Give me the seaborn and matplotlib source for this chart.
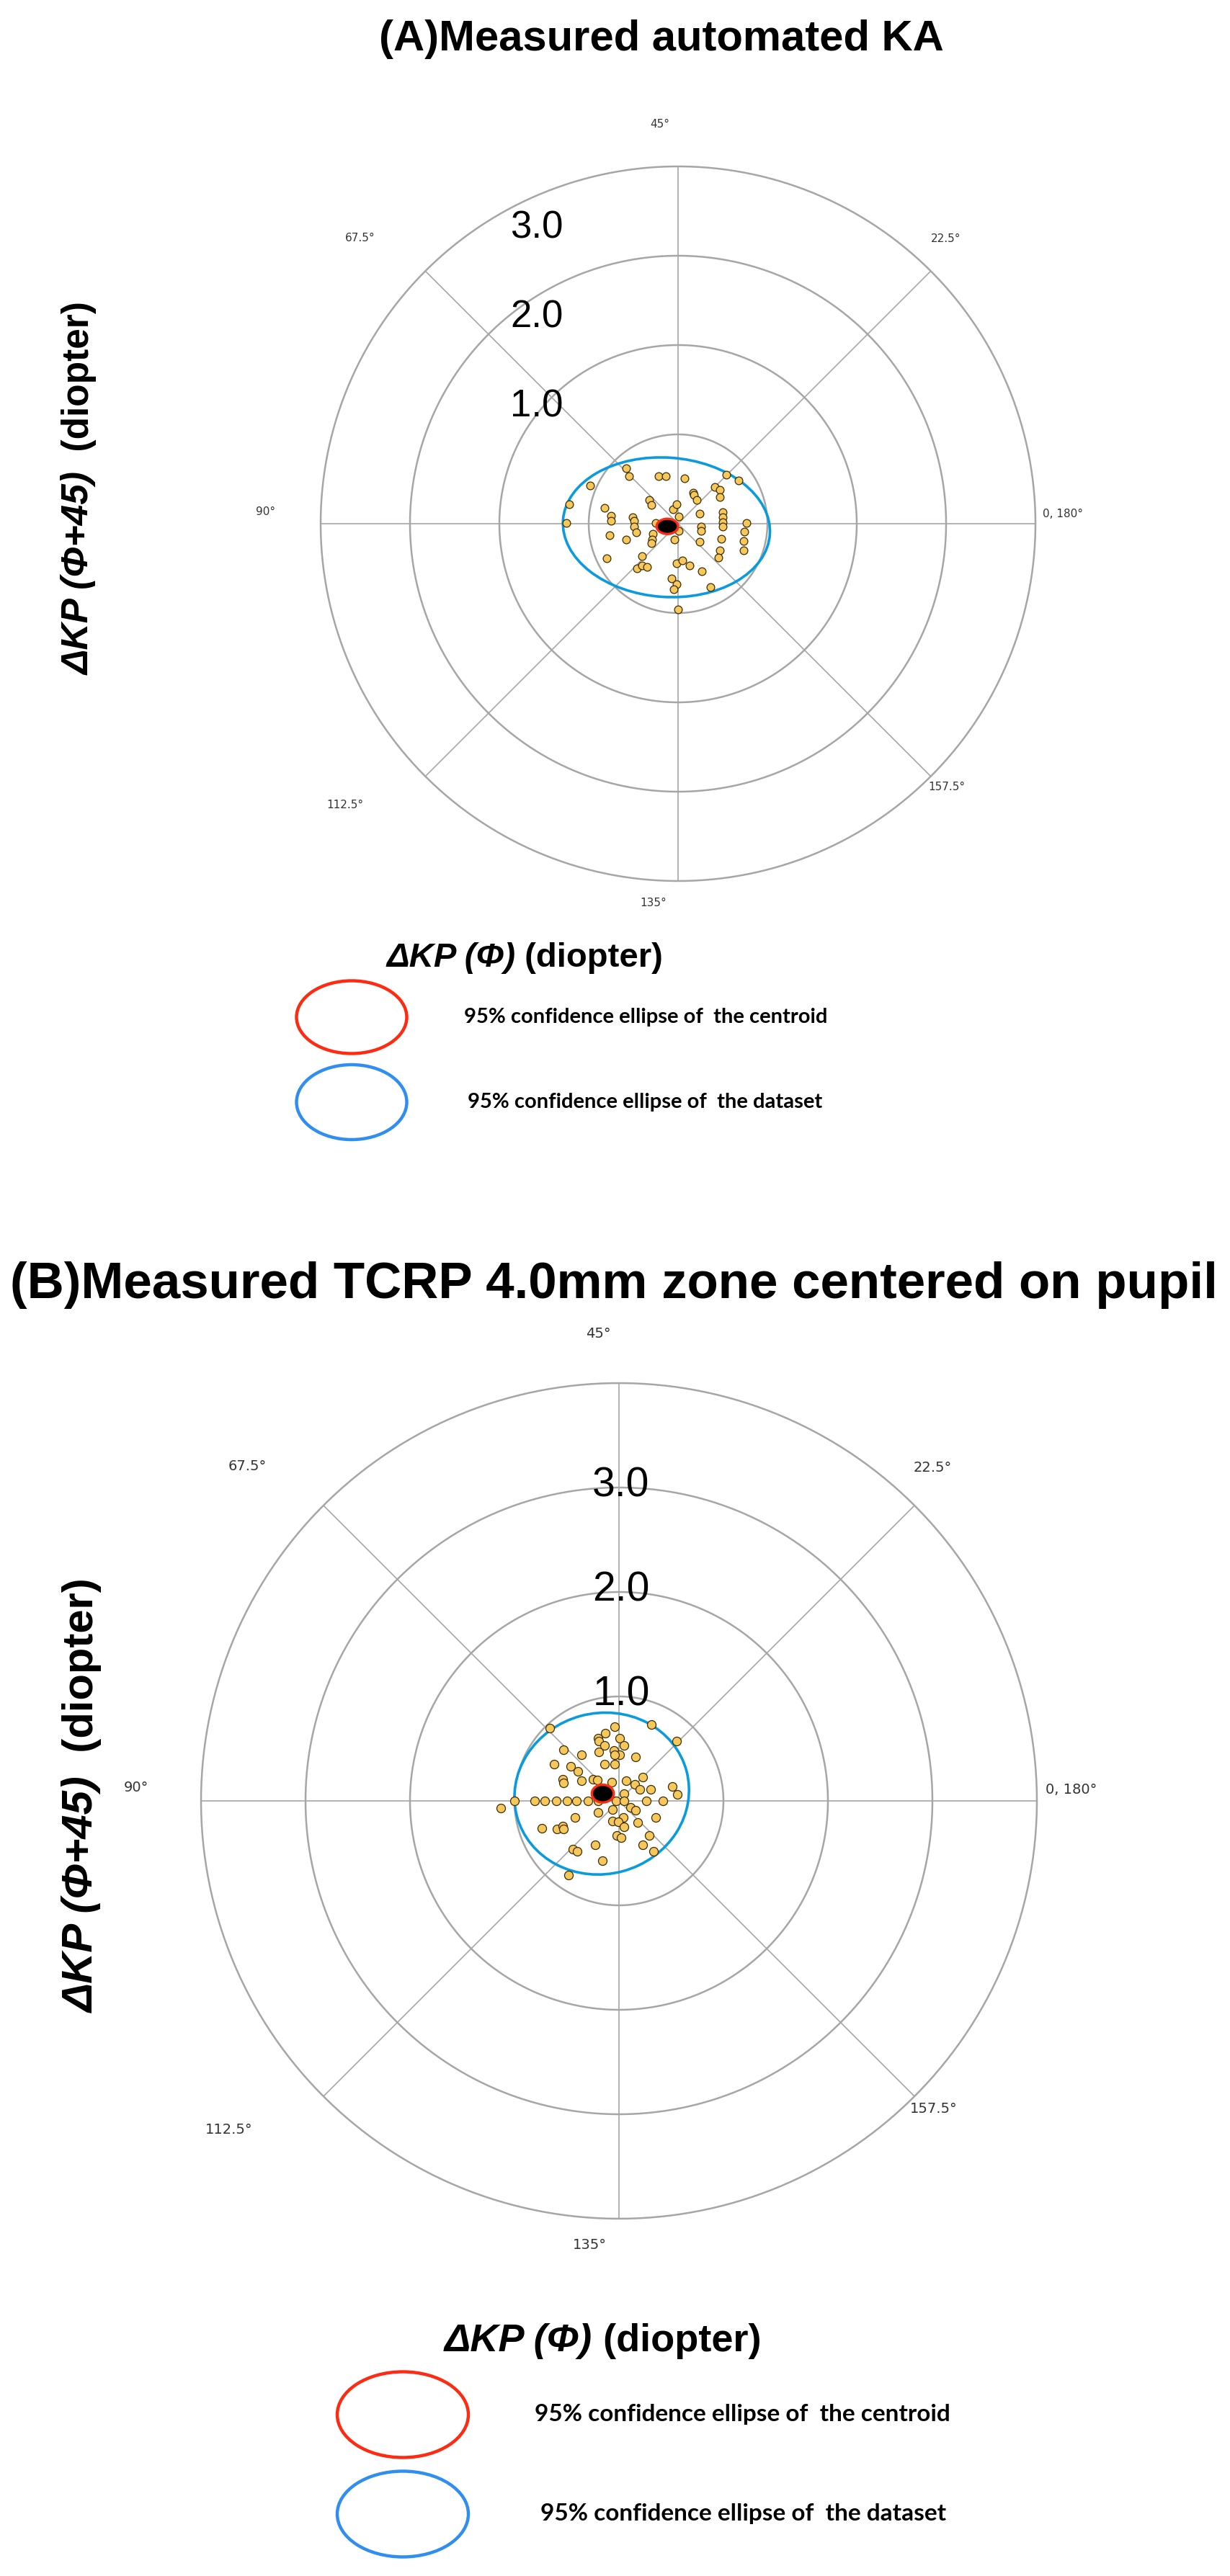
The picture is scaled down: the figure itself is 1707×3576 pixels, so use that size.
import numpy as np
import pandas as pd
import seaborn as sns
import matplotlib.pyplot as plt
from matplotlib.patches import Ellipse

sns.set_theme(style="white")
plt.rcParams['font.family'] = ['Liberation Sans', 'DejaVu Sans']
plt.rcParams['text.color'] = 'black'

# (A) measured automated KA, double-angle plot coordinates (diopter)
ka_x = [-0.58, -0.55, -0.22, -0.14, 0.07, -0.98, -1.22, -1.25, -0.82, -0.75, -0.75, -0.77, -0.80,
        -0.58, -0.51, -0.49, -0.49, -0.47, -0.32, -0.30, -0.25, -0.28, -0.29, -0.30, -0.40, -0.46,
        -0.40, -0.35, -0.06, -0.02, 0.01, 0.01, -0.04, -0.02, 0.05, 0.13, -0.07, -0.02, -0.05, 0.00,
        0.27, 0.36, 0.17, 0.18, 0.21, 0.24, 0.26, 0.26, 0.24, 0.41, 0.47, 0.47, 0.54, 0.68, 0.50,
        0.50, 0.50, 0.50, 0.48, 0.47, 0.45, 0.77, 0.74, 0.73, 0.73]
ka_y = [0.62, 0.53, 0.53, 0.53, 0.51, 0.43, 0.22, 0.01, 0.18, 0.09, 0.03, -0.13, -0.39,
        -0.18, 0.07, 0.03, -0.03, -0.10, 0.27, 0.21, 0.01, -0.11, -0.18, -0.22, -0.36, -0.50,
        -0.47, -0.48, 0.16, 0.22, 0.08, -0.08, -0.18, -0.44, -0.41, -0.47, -0.61, -0.68, -0.73, -0.96,
        -0.53, -0.71, 0.35, 0.32, 0.27, 0.11, -0.03, -0.08, -0.20, 0.41, 0.38, 0.30, 0.55, 0.48, 0.13,
        0.07, 0.02, -0.03, -0.17, -0.30, -0.38, 0.01, -0.09, -0.19, -0.30]
# centre x, centre y, width, height, angle
ka_centroid_ell = [-0.12, -0.03, 0.24, 0.17, 0]
ka_dataset_ell = [-0.13, -0.04, 2.32, 1.56, -4]

# (B) measured TCRP 4.0mm zone centered on pupil
tcrp_x = [-0.66, -0.04, -0.13, -0.20, -0.19, 0.01, 0.05, -0.14, -0.19, -0.05, 0.01, -0.04, -0.53,
          -0.36, 0.16, -0.62, -0.46, -0.39, -0.14, -0.04, -0.54, -0.53, -0.36, -0.25, -0.21, -0.07,
          0.07, 0.23, 0.15, 0.20, 0.30, 0.51, 0.56, 0.05, 0.31, 0.55, -1.13, -1.00, -0.81, -0.71,
          -0.60, -0.50, -0.41, -0.30, -0.20, -0.03, 0.05, 0.26, 0.42, -0.20, -0.06, 0.11, 0.16, 0.04,
          -0.06, -0.01, 0.05, 0.18, 0.35, -0.42, -0.74, -0.59, -0.54, -0.53, -0.02, 0.02, 0.29, 0.23,
          0.33, -0.23, -0.44, -0.40, -0.16, -0.48]
tcrp_y = [0.70, 0.71, 0.65, 0.60, 0.57, 0.60, 0.53, 0.53, 0.47, 0.48, 0.44, 0.44, 0.49,
          0.44, 0.42, 0.35, 0.33, 0.28, 0.35, 0.35, 0.21, 0.17, 0.19, 0.21, 0.20, 0.18,
          0.19, 0.23, 0.16, 0.11, 0.11, 0.14, 0.06, 0.07, 0.73, 0.57, -0.07, 0.00, 0.00, 0.00,
          0.00, 0.00, 0.00, 0.00, 0.00, 0.00, 0.00, 0.00, 0.00, -0.11, -0.08, -0.06, -0.09, -0.16,
          -0.19, -0.20, -0.25, -0.21, -0.16, -0.16, -0.26, -0.27, -0.24, -0.27, -0.33, -0.35, -0.33, -0.42,
          -0.48, -0.42, -0.46, -0.48, -0.57, -0.71]
tcrp_centroid_ell = [-0.155, 0.07, 0.21, 0.17, 0]
tcrp_dataset_ell = [-0.165, 0.07, 1.68, 1.54, 15]

ring_radii = [1, 2, 3, 4]
ring_labels = ['1.0', '2.0', '3.0']
spoke_angles = [0, 45, 90, 135]
angle_labels = ['0, 180°', '22.5°', '45°', '67.5°', '90°', '112.5°', '135°', '157.5°']
angle_label_xy = [(4.08, 0.11), (3.0, 3.19), (-0.2, 4.47), (-3.56, 3.2),
                  (-4.62, 0.13), (-3.73, -3.15), (-0.28, -4.25), (3.01, -2.95)]

W, H = 1708, 3576
fig = plt.figure(figsize=(W / 100, H / 100), dpi=100)

# overlay in pixel coordinates for titles, axis titles and legend
lay = fig.add_axes([0, 0, 1, 1])
lay.set_xlim(0, W)
lay.set_ylim(H, 0)
lay.axis('off')
lay.patch.set_alpha(0)


def add_panel(rect, xs, ys, cen_ell, data_ell, lim, ang_size, rlab_x, rlab_dy, rlab_size, dot_size):
    ax = fig.add_axes(rect)
    grid_c = '#a6a6a6'
    th = np.linspace(0, 2 * np.pi, 500)
    for r in ring_radii:
        ax.plot(r * np.cos(th), r * np.sin(th), color=grid_c, lw=1.8, zorder=1)
    R = ring_radii[-1]
    for a in spoke_angles:
        t = np.deg2rad(a)
        ax.plot([-R * np.cos(t), R * np.cos(t)], [-R * np.sin(t), R * np.sin(t)],
                color=grid_c, lw=1.2, zorder=1)

    df = pd.DataFrame({'x': xs, 'y': ys})
    ax.add_patch(Ellipse((data_ell[0], data_ell[1]), data_ell[2], data_ell[3], angle=data_ell[4],
                         fill=False, edgecolor='#0a9ade', lw=2.6, zorder=2))
    sns.scatterplot(data=df, x='x', y='y', ax=ax, color='#f6c75a', edgecolor='#3b2c05',
                    linewidth=0.9, s=dot_size, zorder=3, legend=False)
    ax.add_patch(Ellipse((cen_ell[0], cen_ell[1]), cen_ell[2], cen_ell[3], angle=cen_ell[4],
                         facecolor='black', edgecolor='#ff2a12', lw=2.4, zorder=4))

    for lab, r in zip(ring_labels, ring_radii):
        ax.text(rlab_x, r + rlab_dy, lab, fontsize=rlab_size, ha='center', va='center',
                color='black', zorder=5)
    for lab, (tx, ty) in zip(angle_labels, angle_label_xy):
        ax.text(tx, ty, lab, fontsize=ang_size, family='DejaVu Sans', color='#333333',
                ha='left' if lab.startswith('0') else 'center', va='center')

    ax.set_xlim(-lim, lim)
    ax.set_ylim(-lim, lim)
    ax.axis('off')
    return ax


def px_rect(cx, cy, half):
    return [(cx - half) / W, 1 - (cy + half) / H, 2 * half / W, 2 * half / H]


# panel A: centre (941, 727) px, 124 px per diopter
add_panel(px_rect(941, 727, 4.6 * 124), ka_x, ka_y, ka_centroid_ell, ka_dataset_ell, 4.6,
          11, -1.58, 0.31, 38, 60)
# panel B: centre (859, 2500) px, 145 px per diopter
add_panel(px_rect(859, 2500, 4.8 * 145), tcrp_x, tcrp_y, tcrp_centroid_ell, tcrp_dataset_ell, 4.8,
          14, 0.02, 0.02, 41, 75)

lay.text(918, 70, '(A)Measured automated KA', fontsize=43, fontweight='bold',
         ha='center', va='baseline')
lay.text(852, 1802, '(B)Measured TCRP 4.0mm zone centered on pupil', fontsize=51,
         fontweight='bold', ha='center', va='baseline')

fig.canvas.draw()
renderer = fig.canvas.get_renderer()
inv = lay.transData.inverted()


def xlabel(x0, y, size):
    t1 = lay.text(x0, y, 'ΔKP (Φ)', fontsize=size, fontweight='bold', fontstyle='italic',
                  ha='left', va='center')
    bb = t1.get_window_extent(renderer)
    x1 = inv.transform((bb.x1, bb.y0))[0]
    lay.text(x1, y, ' (diopter)', fontsize=size, fontweight='bold', ha='left', va='center')


def ylabel(x, y0, size):
    t1 = lay.text(x, y0, 'ΔKP (Φ+45)', fontsize=size, fontweight='bold', fontstyle='italic',
                  rotation=90, ha='center', va='bottom')
    bb = t1.get_window_extent(renderer)
    y1 = inv.transform((bb.x0, bb.y1))[1]
    lay.text(x, y1, '  (diopter)', fontsize=size, fontweight='bold', rotation=90,
             ha='center', va='bottom')


ylabel(110, 937, 37)
ylabel(114, 2794, 43)
xlabel(536, 1330, 34)
xlabel(617, 3250, 39)


def legend_entry(cx, cy, w, h, color, text, tx, size):
    lay.add_patch(Ellipse((cx, cy), w, h, fill=False, edgecolor=color, lw=3.2))
    lay.text(tx, cy, text, fontsize=size, fontweight='bold', family=['Lato', 'DejaVu Sans'],
             ha='left', va='center')


legend_entry(488, 1412, 153, 101, '#ff2a12', '95% confidence ellipse of  the centroid', 644, 21)
legend_entry(488, 1530, 153, 104, '#2f8ef0', '95% confidence ellipse of  the dataset', 649, 21)
legend_entry(559, 3352, 182, 119, '#ff2a12', '95% confidence ellipse of  the centroid', 742, 24)
legend_entry(559, 3490, 182, 119, '#2f8ef0', '95% confidence ellipse of  the dataset', 750, 24)

fig.savefig('out.png', dpi=100)
